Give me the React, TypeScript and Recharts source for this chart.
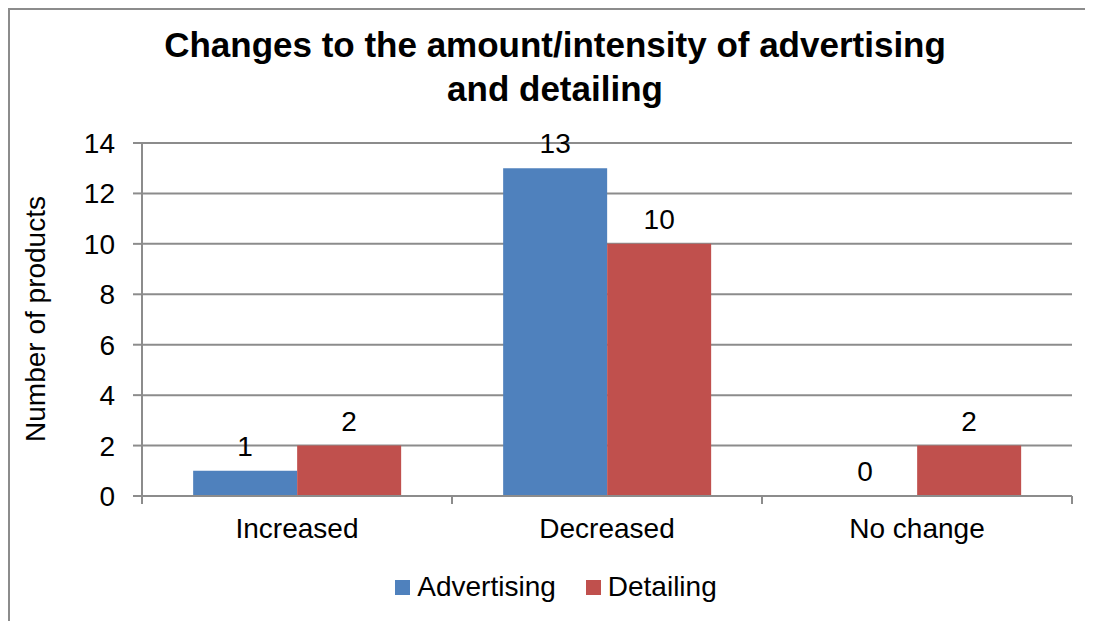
import React from 'react';
import { BarChart, Bar, XAxis, YAxis, CartesianGrid, Legend, LabelList } from 'recharts';

const categories = ['Increased', 'Decreased', 'No change'];
const advertising = [1, 13, 0];
const detailing = [2, 10, 2];
const yTicks = [0, 2, 4, 6, 8, 10, 12, 14];
const titleLines = ['Changes to the amount/intensity of advertising', 'and detailing'];
const yLabel = 'Number of products';

const data = categories.map((c, i) => ({ category: c, Advertising: advertising[i], Detailing: detailing[i] }));

const FONT = '"Liberation Sans", Arial, sans-serif';
const GREY = '#8c8c8c';
const X_TICK_SIZE = 8;
const X_TICK_MARGIN = 14;
const LABEL_OFFSET = 15;
const W = 1085;
const H = 613;

const XTick = (props: any) => {
  const { x, y, payload, width, visibleTicksCount, index } = props;
  const count = visibleTicksCount || categories.length;
  const half = (payload && typeof payload.offset === 'number' && payload.offset > 0) ? payload.offset : (width || 930) / count / 2;
  const axisY = y - X_TICK_SIZE - X_TICK_MARGIN;
  return (
    <g>
      <line x1={x - half} x2={x - half} y1={axisY} y2={axisY + X_TICK_SIZE} stroke={GREY} strokeWidth={2} />
      {index === count - 1 && (
        <line x1={x + half} x2={x + half} y1={axisY} y2={axisY + X_TICK_SIZE} stroke={GREY} strokeWidth={2} />
      )}
      <text x={x} y={y} dy="0.71em" textAnchor="middle" fill="#000" fontSize={28} fontFamily={FONT}>
        {payload.value}
      </text>
    </g>
  );
};

const ValueLabel = (props: any) => {
  const { x, y, width, value } = props;
  if (x == null || y == null) return null;
  return (
    <text x={Number(x) + Number(width) / 2} y={Number(y) - LABEL_OFFSET} textAnchor="middle" fill="#000" fontSize={28} fontFamily={FONT}>
      {String(value)}
    </text>
  );
};

const LegendContent = (props: any) => {
  const payload = props.payload || [];
  return (
    <div style={{ display: 'flex', justifyContent: 'center', alignItems: 'center', paddingLeft: 32, height: 40, fontFamily: FONT, fontSize: 28, color: '#000' }}>
      {payload.map((p: any, i: number) => (
        <div key={i} style={{ display: 'flex', alignItems: 'center', marginLeft: i === 0 ? 0 : 30 }}>
          <span style={{ display: 'inline-block', width: 15, height: 15, background: p.color, marginRight: 7 }} />
          <span>{p.value}</span>
        </div>
      ))}
    </div>
  );
};

export default function App() {
  return (
    <div style={{ position: 'relative', width: W, height: H }}>
      <div style={{ position: 'absolute', left: 0, top: 0, width: W + 20, height: H + 20, borderTop: `2px solid ${GREY}`, borderLeft: `2px solid ${GREY}`, boxSizing: 'border-box', pointerEvents: 'none' }} />
      <BarChart
        width={W}
        height={H}
        data={data}
        margin={{ top: 135, right: 21, bottom: 14, left: 0 }}
        barCategoryGap="16.5%"
        barGap={0}
        style={{ fontFamily: FONT }}
      >
        <CartesianGrid vertical={false} stroke={GREY} strokeWidth={2} />
        <XAxis
          dataKey="category"
          height={71}
          tickSize={X_TICK_SIZE}
          tickMargin={X_TICK_MARGIN}
          tickLine={false}
          axisLine={{ stroke: GREY, strokeWidth: 2 }}
          tick={<XTick />}
          interval={0}
        />
        <YAxis
          width={134}
          domain={[0, 14]}
          ticks={yTicks}
          interval={0}
          tickSize={9}
          tickMargin={18}
          tickLine={{ stroke: GREY, strokeWidth: 2 }}
          axisLine={{ stroke: GREY, strokeWidth: 2 }}
          tick={{ fill: '#000', fontSize: 28, fontFamily: FONT }}
        />
        <Legend verticalAlign="bottom" wrapperStyle={{ height: 40 }} content={<LegendContent />} />
        <Bar dataKey="Advertising" fill="#4F81BD" minPointSize={0.01} isAnimationActive={false}>
          <LabelList dataKey="Advertising" position="top" content={<ValueLabel />} />
        </Bar>
        <Bar dataKey="Detailing" fill="#C0504D" minPointSize={0.01} isAnimationActive={false}>
          <LabelList dataKey="Detailing" position="top" content={<ValueLabel />} />
        </Bar>
        <text x={547} y={49} textAnchor="middle" fontSize={35} fontWeight="bold" fontFamily={FONT} fill="#000">{titleLines[0]}</text>
        <text x={547} y={93} textAnchor="middle" fontSize={35} fontWeight="bold" fontFamily={FONT} fill="#000">{titleLines[1]}</text>
        <text x={37} y={311} transform="rotate(-90 37 311)" textAnchor="middle" fontSize={28} fontFamily={FONT} fill="#000">{yLabel}</text>
      </BarChart>
    </div>
  );
}
